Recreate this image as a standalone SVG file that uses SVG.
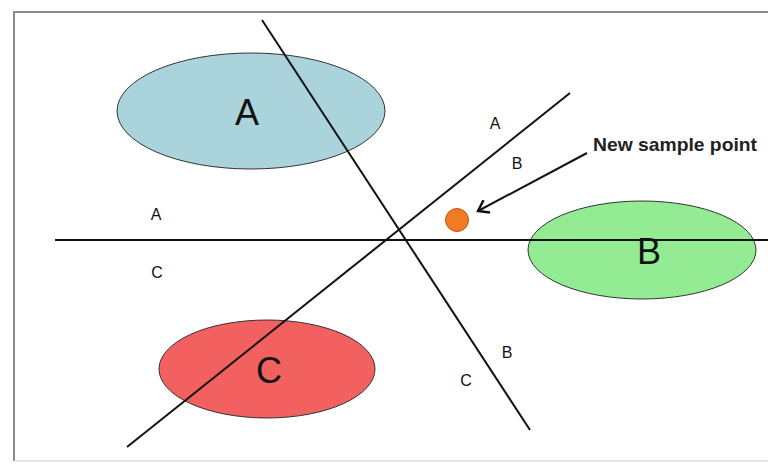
<svg xmlns="http://www.w3.org/2000/svg" width="768" height="464" viewBox="0 0 768 464">
<defs>
<style>
.line{stroke:#111;stroke-width:2;fill:none}
.ell{stroke:#333;stroke-width:1}
.small{font-family:"Liberation Sans",Arial,sans-serif;font-size:16px;fill:#111;text-anchor:middle}
.big{font-family:"Liberation Sans",Arial,sans-serif;font-size:36px;fill:#111;text-anchor:middle}
</style>
<marker id="arr" markerWidth="14" markerHeight="16" refX="11" refY="8" orient="auto" markerUnits="userSpaceOnUse">
<path d="M1,1 L11,8 L1,15" fill="none" stroke="#111" stroke-width="2.4"/>
</marker>
</defs>
<rect x="0" y="0" width="768" height="464" fill="#fff"/>
<path d="M14,461 L14,12 L768,12" fill="none" stroke="#8a8a8a" stroke-width="2"/>
<line x1="14" y1="461" x2="768" y2="461" stroke="#ddd" stroke-width="1.5"/>
<g id="clusterA"><ellipse class="ell" cx="251" cy="111" rx="134" ry="58" fill="#aad3dc"/><text class="big" x="247" y="125">A</text></g>
<g id="clusterB"><ellipse class="ell" cx="642" cy="250" rx="114" ry="49" fill="#93ec93"/><text class="big" x="649" y="264">B</text></g>
<g id="clusterC"><ellipse class="ell" cx="267" cy="369" rx="108" ry="49" fill="#f26060"/><text class="big" x="269" y="383">C</text></g>
<g id="connectors">
<line class="line" x1="262" y1="20" x2="530" y2="430"/>
<line class="line" x1="127" y1="447" x2="570" y2="93"/>
<line class="line" x1="55" y1="240" x2="768" y2="240"/>
<line class="line" x1="587" y1="153" x2="478" y2="211" marker-end="url(#arr)"/>
</g>
<g id="sample"><circle cx="457" cy="220" r="11.5" fill="#f07b22" stroke="#b8561a" stroke-width="1"/></g>
<g id="labels">
<text x="593" y="151" font-family="'Liberation Sans',Arial,sans-serif" font-size="19" font-weight="bold" fill="#222" textLength="164" lengthAdjust="spacingAndGlyphs">New sample point</text>
<text class="small" x="495" y="129">A</text>
<text class="small" x="517" y="169">B</text>
<text class="small" x="156" y="220">A</text>
<text class="small" x="157" y="278">C</text>
<text class="small" x="507" y="358">B</text>
<text class="small" x="466" y="386">C</text>
</g>
</svg>
